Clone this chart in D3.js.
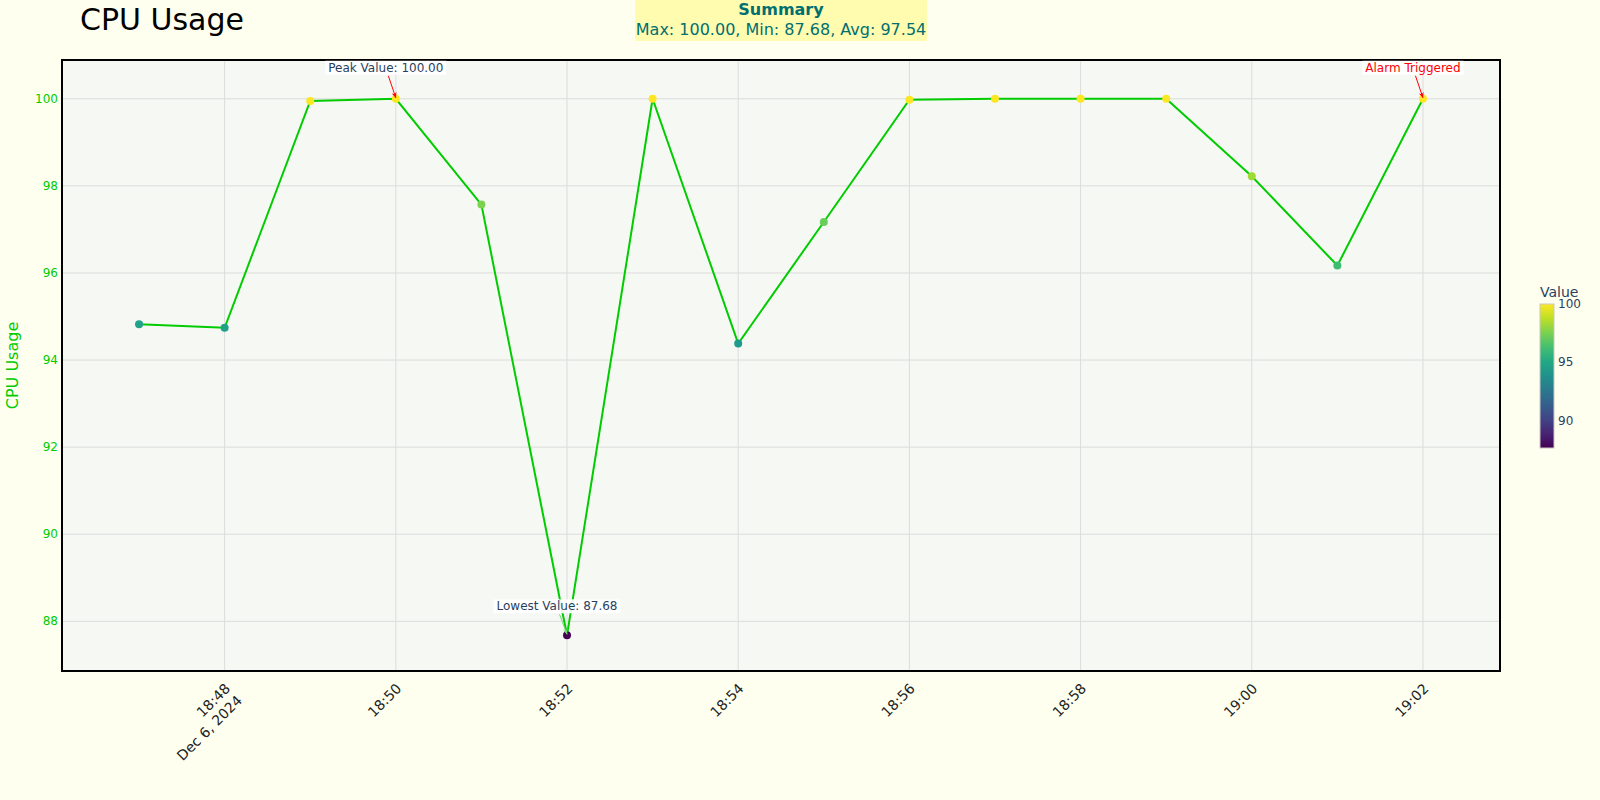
<!DOCTYPE html>
<html>
<head>
<meta charset="utf-8">
<script src="https://cdn.jsdelivr.net/npm/d3@7"></script>
<style>
  body { margin: 0; background: #fffff0; }
  svg { font-family: "DejaVu Sans", sans-serif; }
</style>
</head>
<body>
<svg id="chart" width="1600" height="800"></svg>
<script>
// Data
const minutes = [47, 48, 49, 50, 51, 52, 53, 54, 55, 56, 57, 58, 59, 60, 61, 62];
const cpuValues = [94.82, 94.74, 99.95, 100.00, 97.57, 87.68, 100.00, 94.38,
                   97.17, 99.98, 100.00, 100.00, 100.00, 98.22, 96.17, 100.00];
const yTicks = [88, 90, 92, 94, 96, 98, 100];
const colorTicks = [90, 95, 100];

const times = minutes.map(m => new Date(2024, 11, 6, 18, m));
const points = times.map((t, i) => ({t: t, v: cpuValues[i]}));

const width = 1600, height = 800;
const margin = {left: 62, right: 100, top: 60, bottom: 129};
const green = "#00cc00";

const svg = d3.select("#chart");
svg.append("rect").attr("width", width).attr("height", height).attr("fill", "#fffff0");

const vMax = d3.max(cpuValues), vMin = d3.min(cpuValues), vAvg = d3.mean(cpuValues);

// Scales
const tExt = d3.extent(times);
const pad = 54 * 1000;
const x = d3.scaleTime()
    .domain([new Date(+tExt[0] - pad), new Date(+tExt[1] + pad)])
    .range([margin.left, width - margin.right]);
const y = d3.scaleLinear()
    .domain([vMin - 0.82, vMax + 0.89])
    .range([height - margin.bottom, margin.top]);
const color = d3.scaleSequential(d3.interpolateViridis).domain([vMin, vMax]);

// Plot background
svg.append("rect")
    .attr("x", margin.left).attr("y", margin.top)
    .attr("width", width - margin.left - margin.right)
    .attr("height", height - margin.top - margin.bottom)
    .attr("fill", "#f6f8f4");

// Grid
const xTicks = d3.timeMinute.every(2).range(new Date(2024, 11, 6, 18, 48), new Date(2024, 11, 6, 19, 3));
svg.append("g").selectAll("line").data(xTicks).enter().append("line")
    .attr("x1", d => x(d)).attr("x2", d => x(d))
    .attr("y1", margin.top).attr("y2", height - margin.bottom)
    .attr("stroke", "#dcdcdc").attr("stroke-width", 1);
svg.append("g").selectAll("line").data(yTicks).enter().append("line")
    .attr("x1", margin.left).attr("x2", width - margin.right)
    .attr("y1", d => y(d)).attr("y2", d => y(d))
    .attr("stroke", "#dcdcdc").attr("stroke-width", 1);

// Line
const line = d3.line().x(d => x(d.t)).y(d => y(d.v));
svg.append("path").datum(points)
    .attr("d", line)
    .attr("fill", "none")
    .attr("stroke", green)
    .attr("stroke-width", 2);

// Markers
svg.append("g").selectAll("circle").data(points).enter().append("circle")
    .attr("cx", d => x(d.t)).attr("cy", d => y(d.v))
    .attr("r", 4)
    .attr("fill", d => color(d.v));

// Frame
svg.append("rect")
    .attr("x", margin.left).attr("y", margin.top)
    .attr("width", width - margin.left - margin.right)
    .attr("height", height - margin.top - margin.bottom)
    .attr("fill", "none").attr("stroke", "black").attr("stroke-width", 2);

// Y tick labels
svg.append("g").selectAll("text").data(yTicks).enter().append("text")
    .attr("x", margin.left - 4).attr("y", d => y(d) + 4)
    .attr("text-anchor", "end")
    .attr("font-size", 12).attr("fill", green)
    .text(d => d);

// Y title
svg.append("text")
    .attr("transform", `translate(18, ${(margin.top + height - margin.bottom) / 2}) rotate(-90)`)
    .attr("text-anchor", "middle")
    .attr("font-size", 16).attr("fill", green)
    .text("CPU Usage");

// X tick labels
const fmt = d3.timeFormat("%H:%M");
const xl = svg.append("g").selectAll("g").data(xTicks).enter().append("g")
    .attr("transform", d => `translate(${x(d) + 3}, ${height - margin.bottom + 15}) rotate(-45)`);
xl.append("text")
    .attr("text-anchor", "end")
    .attr("font-size", 14).attr("fill", "#222")
    .attr("dy", "0.35em")
    .text(d => fmt(d));
xl.filter((d, i) => i === 0).append("text")
    .attr("text-anchor", "end")
    .attr("font-size", 14).attr("fill", "#222")
    .attr("x", 0).attr("dy", "1.55em")
    .text(d => d3.timeFormat("%b %-d, %Y")(d));

// Title
svg.append("text")
    .attr("x", 80).attr("y", 30)
    .attr("font-size", 30).attr("fill", "black")
    .text("CPU Usage");

// Summary box
const cx = (margin.left + width - margin.right) / 2;
svg.append("rect")
    .attr("x", cx - 146).attr("y", 0).attr("width", 292).attr("height", 41)
    .attr("fill", "#fffcb0");
svg.append("text")
    .attr("x", cx).attr("y", 15)
    .attr("text-anchor", "middle").attr("font-size", 16).attr("font-weight", "bold")
    .attr("fill", "#006f6f")
    .text("Summary");
svg.append("text")
    .attr("x", cx).attr("y", 35)
    .attr("text-anchor", "middle").attr("font-size", 16)
    .attr("fill", "#006f6f")
    .text(`Max: ${vMax.toFixed(2)}, Min: ${vMin.toFixed(2)}, Avg: ${vAvg.toFixed(2)}`);

// Annotations
const defs = svg.append("defs");
function addHead(id, col) {
    defs.append("marker")
        .attr("id", id).attr("viewBox", "0 0 10 10")
        .attr("refX", 9).attr("refY", 5)
        .attr("markerWidth", 6).attr("markerHeight", 6)
        .attr("orient", "auto")
        .append("path").attr("d", "M0,1 L10,5 L0,9 L3,5 Z").attr("fill", col);
}
addHead("headRed", "red");
addHead("headGreen", "#6fdc6f");

const iMax = cpuValues.indexOf(vMax);
const iMin = cpuValues.indexOf(vMin);
const iLast = cpuValues.length - 1;
const annotations = [
    {p: points[iMax], text: `Peak Value: ${vMax.toFixed(2)}`, fg: "#2a3f5f", arrow: "red", head: "headRed", ax: -10, ay: -31},
    {p: points[iMin], text: `Lowest Value: ${vMin.toFixed(2)}`, fg: "#2a3f5f", arrow: "#6fdc6f", head: "headGreen", ax: -10, ay: -29},
    {p: points[iLast], text: "Alarm Triggered", fg: "red", arrow: "red", head: "headRed", ax: -10, ay: -31}
];
annotations.forEach(a => {
    const px = x(a.p.t), py = y(a.p.v);
    const tx = px + a.ax, ty = py + a.ay;
    const g = svg.append("g");
    const t = g.append("text")
        .attr("x", tx).attr("y", ty + 4)
        .attr("text-anchor", "middle").attr("font-size", 12).attr("fill", a.fg)
        .text(a.text);
    const bb = t.node().getBBox();
    g.insert("rect", "text")
        .attr("x", bb.x - 3).attr("y", ty - 7).attr("width", bb.width + 6).attr("height", 14)
        .attr("fill", "white").attr("fill-opacity", 0.9);
    g.append("line")
        .attr("x1", tx + (px - tx) * 0.25).attr("y1", ty + 8)
        .attr("x2", px).attr("y2", py - 1)
        .attr("stroke", a.arrow).attr("stroke-width", 1)
        .attr("marker-end", `url(#${a.head})`);
});

// Colorbar
const cbX = 1540, cbTop = 304, cbBot = 448, cbW = 14;
const cb = d3.scaleLinear().domain([vMin, vMax]).range([cbBot, cbTop]);
const grad = defs.append("linearGradient")
    .attr("id", "cbGrad").attr("x1", "0%").attr("y1", "100%").attr("x2", "0%").attr("y2", "0%");
d3.range(0, 1.0001, 0.1).forEach(s => {
    grad.append("stop").attr("offset", `${s * 100}%`).attr("stop-color", d3.interpolateViridis(s));
});
svg.append("rect")
    .attr("x", cbX).attr("y", cbTop).attr("width", cbW).attr("height", cbBot - cbTop)
    .attr("fill", "url(#cbGrad)").attr("stroke", "#c8c8c0").attr("stroke-width", 1);
svg.append("g").selectAll("text").data(colorTicks).enter().append("text")
    .attr("x", cbX + cbW + 4).attr("y", d => cb(d) + 4)
    .attr("font-size", 12).attr("fill", "#2a3f5f")
    .text(d => d);
svg.append("text")
    .attr("x", cbX).attr("y", 297)
    .attr("font-size", 14).attr("fill", "#2a3f5f")
    .text("Value");
</script>
</body>
</html>
